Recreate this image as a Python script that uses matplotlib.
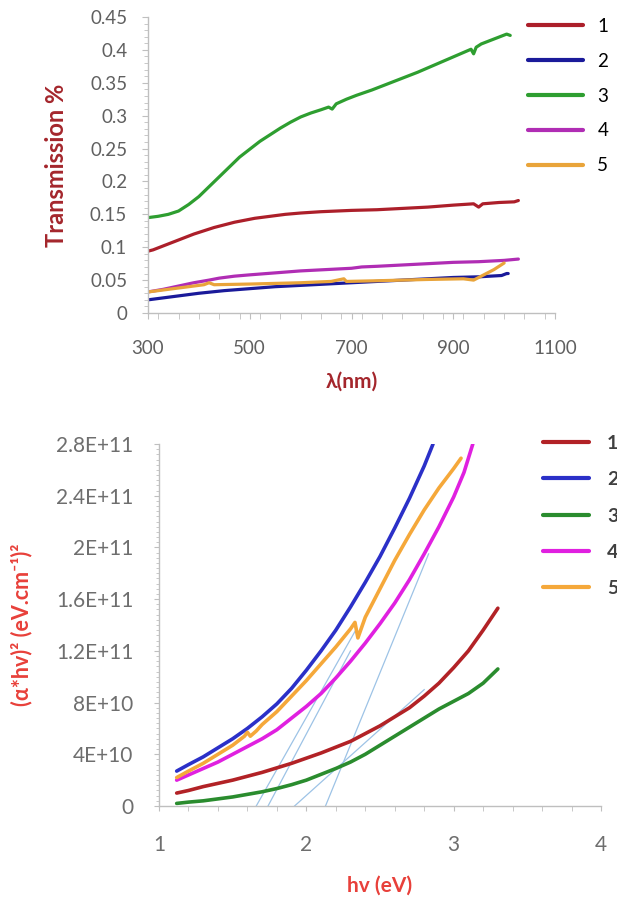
import numpy as np
import matplotlib
matplotlib.use("Agg")
import matplotlib.pyplot as plt
from matplotlib.ticker import FixedLocator, FixedFormatter, MultipleLocator

plt.rcParams['font.family'] = ['Lato', 'DejaVu Sans']

# ---------------- Data: transmission ----------------
wl1 = [300, 310, 330, 350, 370, 390, 410, 430, 450, 470, 490, 510, 540, 570, 600, 640, 670, 700, 750,
       800, 850, 900, 940, 950, 958, 990, 1020, 1028]
t1 = [0.094, 0.096, 0.102, 0.108, 0.114, 0.120, 0.125, 0.130, 0.134, 0.138, 0.141, 0.144, 0.147, 0.150,
      0.152, 0.154, 0.155, 0.156, 0.157, 0.159, 0.161, 0.164, 0.166, 0.161, 0.166, 0.168, 0.169, 0.171]

wl2 = [300, 330, 360, 400, 450, 500, 550, 600, 650, 700, 750, 800, 850, 900, 950, 995, 1005, 1008]
t2 = [0.020, 0.023, 0.026, 0.030, 0.034, 0.037, 0.040, 0.042, 0.044, 0.046, 0.048, 0.050, 0.052, 0.054,
      0.055, 0.057, 0.060, 0.060]

wl3 = [300, 320, 340, 360, 380, 400, 420, 440, 460, 480, 500, 520, 540, 560, 580, 600, 620, 640, 655, 662,
       670, 690, 710, 740, 770, 800, 830, 860, 890, 920, 935, 940, 945, 955, 975, 995, 1005, 1012]
t3 = [0.145, 0.147, 0.150, 0.155, 0.165, 0.177, 0.192, 0.207, 0.222, 0.237, 0.249, 0.261, 0.271, 0.281,
      0.290, 0.298, 0.304, 0.309, 0.313, 0.310, 0.318, 0.325, 0.331, 0.339, 0.348, 0.357, 0.366, 0.376,
      0.386, 0.396, 0.401, 0.394, 0.404, 0.409, 0.415, 0.421, 0.424, 0.422]

wl4 = [300, 330, 360, 390, 420, 440, 470, 500, 550, 600, 650, 700, 720, 750, 800, 850, 900, 950, 1000, 1028]
t4 = [0.032, 0.036, 0.041, 0.046, 0.050, 0.053, 0.056, 0.058, 0.061, 0.064, 0.066, 0.068, 0.070, 0.071,
      0.073, 0.075, 0.077, 0.078, 0.080, 0.082]

wl5 = [300, 350, 410, 420, 430, 500, 600, 660, 685, 690, 750, 850, 920, 940, 960, 980, 1000]
t5 = [0.032, 0.037, 0.043, 0.046, 0.043, 0.044, 0.046, 0.048, 0.052, 0.048, 0.049, 0.051, 0.052, 0.050,
      0.058, 0.066, 0.076]

wl_major = [300, 500, 700, 900, 1100]
t_major = [0, 0.05, 0.1, 0.15, 0.2, 0.25, 0.3, 0.35, 0.4, 0.45]
t_labels = ['0', '0.05', '0.1', '0.15', '0.2', '0.25', '0.3', '0.35', '0.4', '0.45']

# ---------------- Data: Tauc plot (values in units of 1E10) ----------------
unit = 1e10
hv1 = [1.12, 1.2, 1.3, 1.4, 1.5, 1.6, 1.7, 1.8, 1.9, 2.0, 2.1, 2.2, 2.3, 2.4, 2.5, 2.6, 2.7, 2.8, 2.9, 3.0,
       3.1, 3.2, 3.3]
a1 = [1.0, 1.2, 1.5, 1.75, 2.0, 2.3, 2.6, 2.95, 3.3, 3.7, 4.1, 4.55, 5.0, 5.6, 6.2, 6.9, 7.6, 8.5, 9.5,
      10.7, 12.0, 13.6, 15.3]

hv2 = [1.12, 1.2, 1.3, 1.4, 1.5, 1.6, 1.7, 1.8, 1.9, 2.0, 2.1, 2.2, 2.3, 2.4, 2.5, 2.6, 2.7, 2.8, 2.86]
a2 = [2.7, 3.2, 3.8, 4.5, 5.2, 6.0, 6.9, 7.9, 9.1, 10.5, 12.0, 13.6, 15.4, 17.3, 19.3, 21.5, 23.8, 26.3, 28.0]

hv3 = [1.12, 1.2, 1.3, 1.4, 1.5, 1.6, 1.7, 1.8, 1.9, 2.0, 2.1, 2.2, 2.3, 2.4, 2.5, 2.6, 2.7, 2.8, 2.9, 3.0,
       3.1, 3.2, 3.3]
a3 = [0.2, 0.3, 0.4, 0.55, 0.7, 0.9, 1.1, 1.35, 1.65, 2.0, 2.45, 2.9, 3.4, 4.0, 4.7, 5.4, 6.1, 6.8, 7.5,
      8.1, 8.7, 9.5, 10.6]

hv4 = [1.12, 1.2, 1.3, 1.4, 1.5, 1.6, 1.7, 1.8, 1.9, 2.0, 2.1, 2.2, 2.3, 2.4, 2.5, 2.6, 2.7, 2.8, 2.9, 3.0,
       3.07, 3.13]
a4 = [2.0, 2.4, 2.9, 3.4, 4.0, 4.6, 5.2, 5.9, 6.8, 7.7, 8.7, 9.9, 11.2, 12.6, 14.1, 15.7, 17.5, 19.5, 21.6,
      23.9, 25.8, 28.0]

hv5 = [1.12, 1.2, 1.3, 1.4, 1.5, 1.58, 1.6, 1.62, 1.66, 1.7, 1.8, 1.9, 2.0, 2.1, 2.2, 2.3, 2.33, 2.35, 2.4,
       2.5, 2.6, 2.7, 2.8, 2.9, 3.0, 3.05]
a5 = [2.2, 2.7, 3.3, 4.0, 4.7, 5.4, 5.7, 5.4, 5.8, 6.3, 7.3, 8.5, 9.7, 11.0, 12.3, 13.7, 14.2, 13.0, 14.6,
      16.8, 19.0, 21.0, 22.9, 24.6, 26.1, 26.9]

# tangent (extrapolation) lines
tan_hv = [(1.66, 2.33), (1.74, 2.30), (1.92, 2.80), (2.13, 2.83)]
tan_val = [(0, 13.5), (0, 12.0), (0, 9.0), (0, 19.5)]

hv_major = [1, 2, 3, 4]
a_major = [0, 4, 8, 12, 16, 20, 24, 28]
a_labels = ['0', '4E+10', '8E+10', '1.2E+11', '1.6E+11', '2E+11', '2.4E+11', '2.8E+11']

names = ['1', '2', '3', '4', '5']

# ---------------- Figure ----------------
W, H = 617, 898
fig = plt.figure(figsize=(W / 100, H / 100), dpi=100)

axis_grey = '#BFBFBF'

# ---- Top axes ----
ax1 = fig.add_axes([148 / W, 1 - 313 / H, (555 - 148) / W, (313 - 17) / H])
cols1 = ['#AC1F2A', '#1A1A9A', '#2E9E30', '#B02DB4', '#E9A43A']
for x, y, c, n in zip([wl1, wl2, wl3, wl4, wl5], [t1, t2, t3, t4, t5], cols1, names):
    ax1.plot(x, y, color=c, lw=2.3, label=n, solid_capstyle='round', solid_joinstyle='round')
ax1.set_xlim(300, 1100)
ax1.set_ylim(0, 0.45)
ax1.xaxis.set_major_locator(FixedLocator(wl_major))
ax1.xaxis.set_minor_locator(MultipleLocator(40))
ax1.yaxis.set_major_locator(FixedLocator(t_major))
ax1.yaxis.set_major_formatter(FixedFormatter(t_labels))
ax1.yaxis.set_minor_locator(MultipleLocator(0.01))
for s in ['top', 'right']:
    ax1.spines[s].set_visible(False)
for s in ['left', 'bottom']:
    ax1.spines[s].set_color(axis_grey)
    ax1.spines[s].set_linewidth(1.0)
ax1.tick_params(axis='both', which='both', colors=axis_grey, labelcolor='#606060', labelsize=13.5, direction='out')
ax1.tick_params(axis='x', which='both', length=4.3, pad=15)
ax1.tick_params(axis='y', which='major', length=4.5, pad=10.5)
ax1.tick_params(axis='y', which='minor', length=3)
ax1.set_ylabel('Transmission %', color='#A4262C', fontsize=17, fontweight='bold', labelpad=16)
ax1.set_xlabel('λ(nm)', color='#A4262C', fontsize=15, fontweight='bold', labelpad=11)
leg1 = ax1.legend(loc='upper left', bbox_to_anchor=(528 / W, 1 - 18 / H), bbox_transform=fig.transFigure,
                  frameon=False, borderpad=0, borderaxespad=0, handlelength=2.95, handletextpad=0.75,
                  labelspacing=0.95, fontsize=13.5)
for l in leg1.get_lines():
    l.set_linewidth(3)

# ---- Bottom axes ----
ax2 = fig.add_axes([159 / W, 1 - 806 / H, (601 - 159) / W, (806 - 444) / H])
cols2 = ['#B22226', '#2B30C8', '#2A8C2E', '#E020E0', '#F5A83A']
for (x0, x1v), (y0, y1v) in zip(tan_hv, tan_val):
    ax2.plot([x0, x1v], [y0 * unit, y1v * unit], color='#9DC3E6', lw=0.9)
lines2 = []
for x, y, c, n in zip([hv1, hv2, hv3, hv4, hv5], [a1, a2, a3, a4, a5], cols2, names):
    ln, = ax2.plot(x, np.array(y) * unit, color=c, lw=2.6, label=n, solid_capstyle='round',
                   solid_joinstyle='round')
    lines2.append(ln)
ax2.set_xlim(1, 4)
ax2.set_ylim(0, 28 * unit)
ax2.xaxis.set_major_locator(FixedLocator(hv_major))
ax2.xaxis.set_minor_locator(MultipleLocator(0.2))
ax2.yaxis.set_major_locator(FixedLocator([v * unit for v in a_major]))
ax2.yaxis.set_major_formatter(FixedFormatter(a_labels))
ax2.yaxis.set_minor_locator(MultipleLocator(0.4 * unit))
for s in ['top', 'right']:
    ax2.spines[s].set_visible(False)
for s in ['left', 'bottom']:
    ax2.spines[s].set_color(axis_grey)
    ax2.spines[s].set_linewidth(1.0)
ax2.tick_params(axis='both', which='both', colors=axis_grey, labelcolor='#6E6E6E', labelsize=15, direction='out')
ax2.tick_params(axis='x', which='both', length=3.6, pad=17)
ax2.tick_params(axis='y', which='major', length=3.6, pad=15)
ax2.tick_params(axis='y', which='minor', length=2)
ax2.set_ylabel('(α*hv)² (eV.cm⁻¹)²', color='#E8403A', fontsize=15.5, fontweight='bold', labelpad=17)
ax2.set_xlabel('hv (eV)', color='#E8403A', fontsize=15, fontweight='bold', labelpad=15)
leg2 = ax2.legend(handles=lines2, loc='upper left', bbox_to_anchor=(543 / W, 1 - 435 / H),
                  bbox_transform=fig.transFigure, frameon=False, borderpad=0, borderaxespad=0,
                  handlelength=2.35, handletextpad=0.95, labelspacing=0.99, fontsize=14)
for t in leg2.get_texts():
    t.set_color('#404040')
    t.set_fontweight('bold')
for l in leg2.get_lines():
    l.set_linewidth(3)

fig.savefig('out.png', dpi=100, facecolor='white')
